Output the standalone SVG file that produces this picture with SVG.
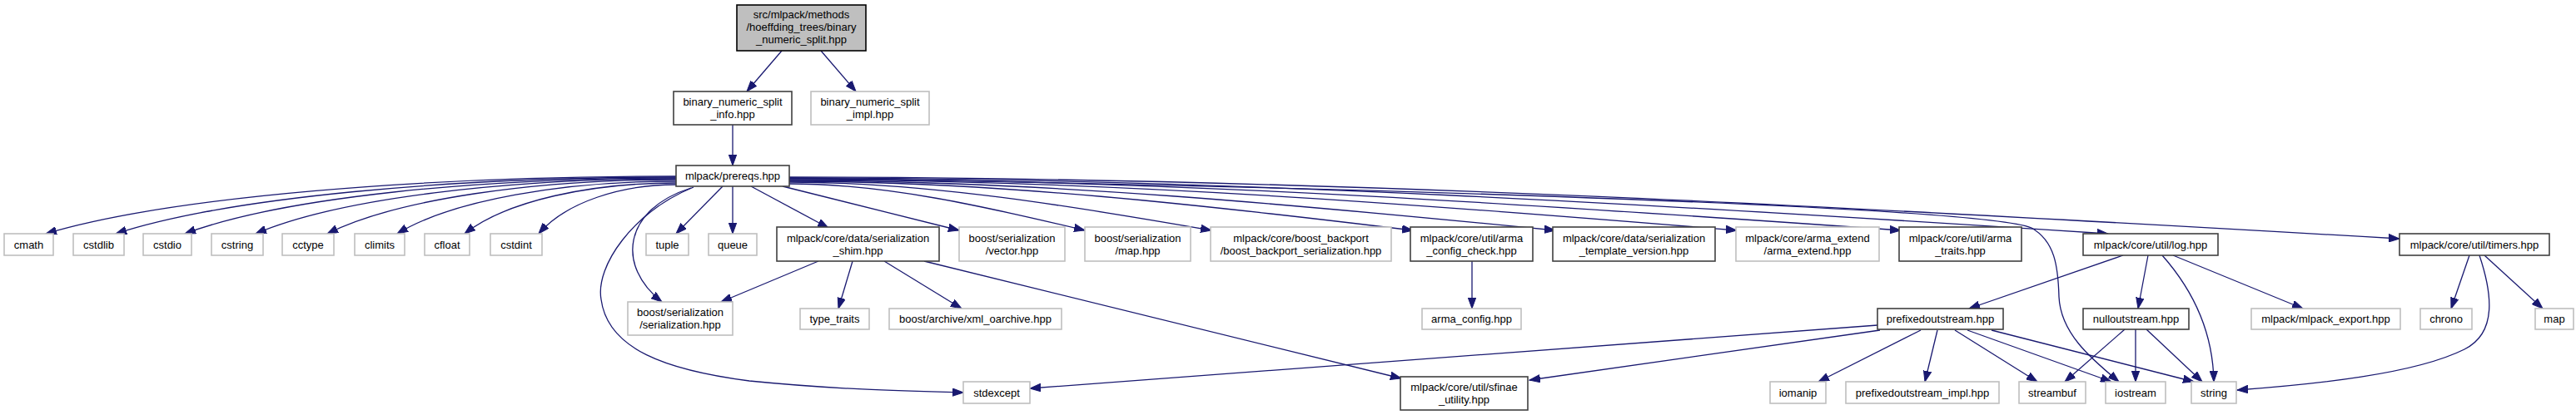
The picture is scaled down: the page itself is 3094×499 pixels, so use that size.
<svg xmlns="http://www.w3.org/2000/svg" width="3094" height="499" viewBox="0 0 3094 499">
<style>
text{font-family:"Liberation Sans",Arial,sans-serif;font-size:13px;fill:#000;text-anchor:middle}
.d{fill:#fff;stroke:#404040;stroke-width:1.6}
.g{fill:#fff;stroke:#bfbfbf;stroke-width:1.6}
.r{fill:#bfbfbf;stroke:#000;stroke-width:1.6}
.e path{fill:none;stroke:#191970;stroke-width:1.3;marker-end:url(#a)}
</style>
<defs>
<marker id="a" markerUnits="userSpaceOnUse" markerWidth="14" markerHeight="10" refX="13" refY="5" orient="auto" viewBox="0 0 14 10">
<path d="M0,0.3 L13,5 L0,9.7 z" fill="#191970" stroke="#191970" stroke-width="1"/>
</marker>
</defs>
<rect width="3094" height="499" fill="#fff"/>
<g class="e" id="edges">
<path d="M939,61 L897,110"/>
<path d="M986,61 L1028,110"/>
<path d="M880,150 L880,199"/>
<path d="M812,212 C509,212 206,236 55,281"/>
<path d="M812,213 C543,213 274,237 139,281"/>
<path d="M812,214 C576,214 340,237 222,281"/>
<path d="M812,215 C610,215 408,238 307,281"/>
<path d="M812,216 C644,216 477,239 393,281"/>
<path d="M812,218 C678,218 544,240 477,281"/>
<path d="M812,220 C710,220 609,241 558,281"/>
<path d="M812,222 C746,222 680,243 647,281"/>
<path d="M868,224 L812,281"/>
<path d="M880,224 L880,281"/>
<path d="M902,224 L995,274"/>
<path d="M940,224 L1152,277"/>
<path d="M830,226 C748,252 740,320 795,363"/>
<path d="M833,225 C760,255 715,320 722,360 C730,420 800,445 900,458 C1000,468 1080,470 1157,472"/>
<path d="M948,221 C1065,221 1186,249 1303,277"/>
<path d="M948,219 C1115,219 1288,248 1455,277"/>
<path d="M948,218 C1195,218 1450,247 1697,277"/>
<path d="M948,217 C1252,217 1564,247 1868,277"/>
<path d="M948,216 C1324,216 1710,246 2086,277"/>
<path d="M948,215 C1389,215 1842,246 2283,277"/>
<path d="M948,214 C1471,214 2009,247 2532,281"/>
<path d="M948,213 C1586,213 2244,250 2882,287"/>
<path d="M948,214 C1700,226 2380,250 2440,274 C2468,290 2472,320 2473,357 C2475,400 2510,430 2545,459"/>
<path d="M983,314 L866,363"/>
<path d="M1024,314 L1007,371"/>
<path d="M1062,314 L1155,371"/>
<path d="M1110,314 L1683,455"/>
<path d="M1768,314 L1768,371"/>
<path d="M2550,307 L2365,371"/>
<path d="M2580,307 L2568,371"/>
<path d="M2597,307 C2635,350 2658,400 2659,459"/>
<path d="M2610,307 L2766,371"/>
<path d="M2966,307 L2944,371"/>
<path d="M2984,307 L3054,371"/>
<path d="M2978,307 C2993,352 3000,400 2960,420 C2900,450 2780,462 2687,469"/>
<path d="M2255,391 L1237,467"/>
<path d="M2258,397 L1837,457"/>
<path d="M2307,397 L2184,459"/>
<path d="M2327,397 L2312,459"/>
<path d="M2348,397 L2447,459"/>
<path d="M2363,397 L2536,459"/>
<path d="M2392,397 L2635,459"/>
<path d="M2552,396 L2480,459"/>
<path d="M2565,396 L2565,459"/>
<path d="M2578,396 L2645,459"/>
</g>
<g id="n_top"><rect class="r" x="885" y="6" width="155" height="55"/><text x="962.5" y="21.5">src/mlpack/methods</text><text x="962.5" y="36.5">/hoeffding_trees/binary</text><text x="962.5" y="51.5">_numeric_split.hpp</text></g>
<g id="n_info"><rect class="d" x="809" y="110" width="142" height="40"/><text x="880" y="127">binary_numeric_split</text><text x="880" y="142">_info.hpp</text></g>
<g id="n_impl"><rect class="g" x="974" y="110" width="142" height="40"/><text x="1045" y="127">binary_numeric_split</text><text x="1045" y="142">_impl.hpp</text></g>
<g id="n_prereqs"><rect class="d" x="812" y="199" width="136" height="25"/><text x="880" y="216">mlpack/prereqs.hpp</text></g>
<g id="n_cmath"><rect class="g" x="5" y="281" width="59" height="26"/><text x="34.5" y="298.5">cmath</text></g>
<g id="n_cstdlib"><rect class="g" x="88" y="281" width="61" height="26"/><text x="118.5" y="298.5">cstdlib</text></g>
<g id="n_cstdio"><rect class="g" x="172" y="281" width="58" height="26"/><text x="201" y="298.5">cstdio</text></g>
<g id="n_cstring"><rect class="g" x="254" y="281" width="62" height="26"/><text x="285" y="298.5">cstring</text></g>
<g id="n_cctype"><rect class="g" x="339" y="281" width="62" height="26"/><text x="370" y="298.5">cctype</text></g>
<g id="n_climits"><rect class="g" x="426" y="281" width="60" height="26"/><text x="456" y="298.5">climits</text></g>
<g id="n_cfloat"><rect class="g" x="510" y="281" width="54" height="26"/><text x="537" y="298.5">cfloat</text></g>
<g id="n_cstdint"><rect class="g" x="589" y="281" width="62" height="26"/><text x="620" y="298.5">cstdint</text></g>
<g id="n_tuple"><rect class="g" x="776" y="281" width="51" height="26"/><text x="801.5" y="298.5">tuple</text></g>
<g id="n_queue"><rect class="g" x="851" y="281" width="58" height="26"/><text x="880" y="298.5">queue</text></g>
<g id="n_shim"><rect class="d" x="933" y="273" width="195" height="41"/><text x="1030.5" y="290.5">mlpack/core/data/serialization</text><text x="1030.5" y="305.5">_shim.hpp</text></g>
<g id="n_vector"><rect class="g" x="1152" y="273" width="127" height="41"/><text x="1215.5" y="290.5">boost/serialization</text><text x="1215.5" y="305.5">/vector.hpp</text></g>
<g id="n_map_hpp"><rect class="g" x="1303" y="273" width="127" height="41"/><text x="1366.5" y="290.5">boost/serialization</text><text x="1366.5" y="305.5">/map.hpp</text></g>
<g id="n_backport"><rect class="g" x="1454" y="273" width="217" height="41"/><text x="1562.5" y="290.5">mlpack/core/boost_backport</text><text x="1562.5" y="305.5">/boost_backport_serialization.hpp</text></g>
<g id="n_armacheck"><rect class="d" x="1694" y="273" width="147" height="41"/><text x="1767.5" y="290.5">mlpack/core/util/arma</text><text x="1767.5" y="305.5">_config_check.hpp</text></g>
<g id="n_tplver"><rect class="d" x="1865" y="273" width="195" height="41"/><text x="1962.5" y="290.5">mlpack/core/data/serialization</text><text x="1962.5" y="305.5">_template_version.hpp</text></g>
<g id="n_armaext"><rect class="g" x="2085" y="273" width="172" height="41"/><text x="2171" y="290.5">mlpack/core/arma_extend</text><text x="2171" y="305.5">/arma_extend.hpp</text></g>
<g id="n_armatraits"><rect class="d" x="2281" y="273" width="147" height="41"/><text x="2354.5" y="290.5">mlpack/core/util/arma</text><text x="2354.5" y="305.5">_traits.hpp</text></g>
<g id="n_log"><rect class="d" x="2502" y="281" width="162" height="26"/><text x="2583" y="298.5">mlpack/core/util/log.hpp</text></g>
<g id="n_timers"><rect class="d" x="2882" y="281" width="180" height="26"/><text x="2972" y="298.5">mlpack/core/util/timers.hpp</text></g>
<g id="n_bser"><rect class="g" x="754" y="363" width="126" height="40"/><text x="817" y="380">boost/serialization</text><text x="817" y="395">/serialization.hpp</text></g>
<g id="n_typetraits"><rect class="g" x="961" y="371" width="83" height="25"/><text x="1002.5" y="388">type_traits</text></g>
<g id="n_xml"><rect class="g" x="1068" y="371" width="207" height="25"/><text x="1171.5" y="388">boost/archive/xml_oarchive.hpp</text></g>
<g id="n_armaconfig"><rect class="g" x="1708" y="371" width="119" height="25"/><text x="1767.5" y="388">arma_config.hpp</text></g>
<g id="n_prefixed"><rect class="d" x="2255" y="371" width="151" height="25"/><text x="2330.5" y="388">prefixedoutstream.hpp</text></g>
<g id="n_nullout"><rect class="d" x="2502" y="371" width="127" height="25"/><text x="2565.5" y="388">nulloutstream.hpp</text></g>
<g id="n_export"><rect class="g" x="2704" y="371" width="179" height="25"/><text x="2793.5" y="388">mlpack/mlpack_export.hpp</text></g>
<g id="n_chrono"><rect class="g" x="2907" y="371" width="62" height="25"/><text x="2938" y="388">chrono</text></g>
<g id="n_map"><rect class="g" x="3045" y="371" width="46" height="25"/><text x="3068" y="388">map</text></g>
<g id="n_stdexcept"><rect class="g" x="1157" y="459" width="80" height="26"/><text x="1197" y="476.5">stdexcept</text></g>
<g id="n_sfinae"><rect class="d" x="1682" y="453" width="153" height="40"/><text x="1758.5" y="470">mlpack/core/util/sfinae</text><text x="1758.5" y="485">_utility.hpp</text></g>
<g id="n_iomanip"><rect class="g" x="2126" y="459" width="67" height="26"/><text x="2159.5" y="476.5">iomanip</text></g>
<g id="n_pimpl"><rect class="g" x="2217" y="459" width="184" height="26"/><text x="2309" y="476.5">prefixedoutstream_impl.hpp</text></g>
<g id="n_streambuf"><rect class="g" x="2425" y="459" width="80" height="26"/><text x="2465" y="476.5">streambuf</text></g>
<g id="n_iostream"><rect class="g" x="2529" y="459" width="72" height="26"/><text x="2565" y="476.5">iostream</text></g>
<g id="n_string"><rect class="g" x="2632" y="459" width="54" height="26"/><text x="2659" y="476.5">string</text></g>
</svg>
